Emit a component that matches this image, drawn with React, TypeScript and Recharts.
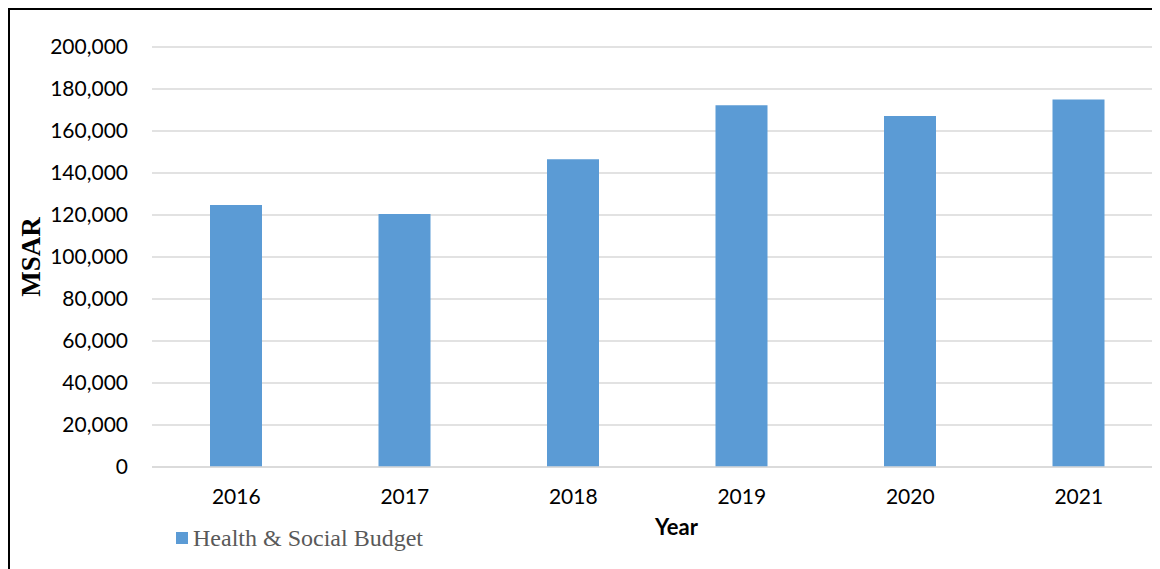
import React from 'react';
import { BarChart, Bar, XAxis, YAxis, CartesianGrid, Legend } from 'recharts';

// values (MSAR)
const years = ['2016', '2017', '2018', '2019', '2020', '2021'];
const budget = [124800, 120500, 146600, 172300, 167100, 175000];
const yTicks = [0, 20000, 40000, 60000, 80000, 100000, 120000, 140000, 160000, 180000, 200000];

const data = years.map((y, i) => ({ year: y, budget: budget[i] }));

const BLUE = '#5b9bd5';
const GRID = '#d9d9d9';
const tickFont = { fontFamily: 'Lato, "Open Sans", sans-serif', fontSize: 21, fill: '#000' };

// absolutely placed so the legend does not eat plot height
const LegendBox = () => (
  <div style={{ position: 'absolute', left: 0, top: 0, display: 'flex', alignItems: 'center', height: 24, whiteSpace: 'nowrap' }}>
    <span style={{ width: 12, height: 12, backgroundColor: BLUE, display: 'inline-block', marginRight: 5 }}></span>
    <span style={{ fontFamily: '"Liberation Serif", "Times New Roman", serif', fontSize: 24, color: '#595959' }}>
      Health &amp; Social Budget
    </span>
  </div>
);

const App: React.FC = () => {
  return (
    <div
      style={{
        width: 1152,
        height: 561,
        boxSizing: 'border-box',
        borderTop: '2px solid #000',
        borderLeft: '2px solid #000',
        overflow: 'hidden',
        position: 'relative',
        background: '#fff',
      }}
    >
      <BarChart width={1170} height={551} data={data} margin={{ top: 37, right: 17, bottom: 34, left: 0 }}>
        <CartesianGrid vertical={false} stroke={GRID} strokeWidth={1.5} />
        <XAxis
          dataKey="year"
          height={60}
          tickLine={false}
          tickSize={0}
          tickMargin={22}
          axisLine={{ stroke: GRID, strokeWidth: 1.5 }}
          tick={tickFont}
          label={{
            value: 'Year',
            position: 'center',
            dx: 19,
            dy: 30,
            style: { fontFamily: 'Lato, sans-serif', fontWeight: 700, fontSize: 22, fill: '#000' },
          }}
        />
        <YAxis
          width={142}
          domain={[0, 200000]}
          ticks={yTicks}
          interval={0}
          axisLine={false}
          tickLine={false}
          tickSize={0}
          tickMargin={24}
          tick={tickFont}
          tickFormatter={(v: number) => v.toLocaleString('en-US')}
          label={{
            value: 'MSAR',
            angle: -90,
            position: 'center',
            dx: -51,
            style: { fontFamily: '"Liberation Serif", serif', fontWeight: 700, fontSize: 27, fill: '#000' },
          }}
        />
        <Legend
          content={() => <LegendBox />}
          wrapperStyle={{ position: 'absolute', left: 166, top: 516, width: 0, height: 0 }}
        />
        <Bar dataKey="budget" name="Health & Social Budget" fill={BLUE} barSize={52} isAnimationActive={false} />
      </BarChart>
    </div>
  );
};

export default App;
